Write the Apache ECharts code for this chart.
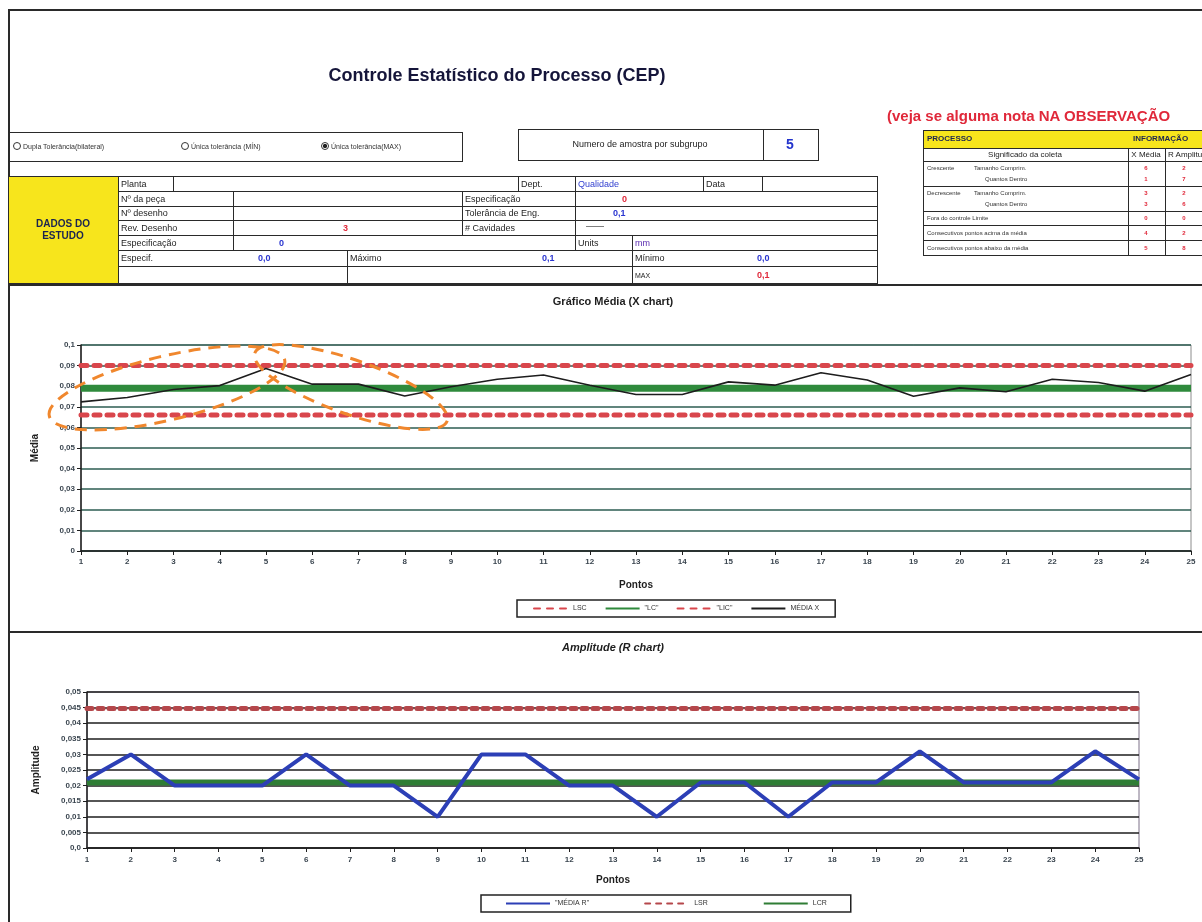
<!DOCTYPE html>
<html>
<head>
<meta charset="utf-8">
<title>Controle Estatístico do Processo (CEP)</title>
<script src="https://cdn.jsdelivr.net/npm/echarts@6/dist/echarts.min.js"></script>
<style>
  html, body { margin: 0; padding: 0; background: #fff; }
  #page { position: relative; width: 1202px; height: 922px; overflow: hidden;
          font-family: Arial, "Liberation Sans", sans-serif; background: #fff; }
  #chart { position: absolute; left: 0; top: 0; width: 1202px; height: 922px; }
  #form { position: absolute; left: 0; top: 0; width: 1202px; height: 922px; pointer-events: none; }
  .b { position: absolute; box-sizing: border-box; border: 1px solid #2a2a2a; }
  .t { position: absolute; white-space: nowrap; line-height: 1; transform: translateY(-50%); color: #222; }
  .ln { position: absolute; background: #2a2a2a; }
</style>
</head>
<body>
<div id="page">
  <div id="chart"></div>
  <div id="form"></div>
</div>
<script>
// ---- data: subgroup points, X-bar chart and R chart ----
const points = ['1','2','3','4','5','6','7','8','9','10','11','12','13','14','15','16','17','18','19','20','21','22','23','24','25'];

// mean of each subgroup (X chart)
const mediaX = [0.0724, 0.0745, 0.0784, 0.0803, 0.0886, 0.0810, 0.0810, 0.0752, 0.0797, 0.0834,
                0.0854, 0.0805, 0.0760, 0.0760, 0.0821, 0.0805, 0.0865, 0.0830, 0.0751, 0.0792,
                0.0773, 0.0834, 0.0818, 0.0776, 0.0857];
// control limits of the X chart
const limitLSC = 0.0900;
const limitLC  = 0.0790;
const limitLIC = 0.0660;

// range of each subgroup (R chart)
const mediaR = [0.022, 0.030, 0.020, 0.020, 0.020, 0.030, 0.020, 0.020, 0.010, 0.030,
                0.030, 0.020, 0.020, 0.010, 0.021, 0.021, 0.010, 0.021, 0.021, 0.031,
                0.021, 0.021, 0.021, 0.031, 0.022];
// control limits of the R chart
const limitLSR = 0.0447;
const limitLCR = 0.0210;

// legend names
const namesX = ['LSC', '"LC"', '"LIC"', 'MÉDIA X'];
const namesR = ['"MÉDIA R"', 'LSR', 'LCR'];

// ---- study form (header tables) ----
const form = document.getElementById('form');
function box(x1, y1, x2, y2, css) {
  const d = document.createElement('div');
  d.className = 'b';
  d.style.cssText = `left:${x1}px;top:${y1}px;width:${x2 - x1 + 1}px;height:${y2 - y1 + 1}px;` + (css || '');
  form.appendChild(d);
  return d;
}
function txt(x, y, s, css) {
  const d = document.createElement('div');
  d.className = 't';
  d.textContent = s;
  d.style.cssText = `left:${x}px;top:${y}px;` + (css || '');
  form.appendChild(d);
  return d;
}
function hline(x1, x2, y, w) {
  const d = document.createElement('div');
  d.className = 'ln';
  d.style.cssText = `left:${x1}px;top:${y}px;width:${x2 - x1}px;height:${w}px;`;
  form.appendChild(d);
}
function vline(x, y1, y2, w) {
  const d = document.createElement('div');
  d.className = 'ln';
  d.style.cssText = `left:${x}px;top:${y1}px;width:${w}px;height:${y2 - y1}px;`;
  form.appendChild(d);
}

// page frame and section separators
hline(8, 1202, 9, 2);
vline(8, 9, 922, 2);
hline(8, 1202, 284, 2);
hline(8, 1202, 631, 2);

// main title
txt(497, 75, 'Controle Estatístico do Processo (CEP)',
    'transform:translate(-50%,-50%);font-weight:bold;font-size:18px;color:#15153a;');
txt(887, 115, '(veja se alguma nota NA OBSERVAÇÃO',
    'font-weight:bold;font-size:15px;color:#e0283a;');

// tolerance type selector
box(8, 132, 462, 161);
function radio(x, y, filled) {
  const d = document.createElement('div');
  d.style.cssText = `position:absolute;left:${x}px;top:${y - 4}px;width:8px;height:8px;box-sizing:border-box;` +
    `border:1px solid #333;border-radius:50%;background:${filled ? 'radial-gradient(circle,#222 45%,#fff 55%)' : '#fff'};`;
  form.appendChild(d);
}
radio(13, 146, false); txt(23, 146, 'Dupla Tolerância(bilateral)', 'font-size:7px;color:#333;');
radio(181, 146, false); txt(191, 146, 'Única tolerância (MÍN)', 'font-size:7px;color:#333;');
radio(321, 146, true); txt(331, 146, 'Única tolerância(MAX)', 'font-size:7px;color:#333;');

box(518, 129, 763, 160);
txt(640, 144, 'Numero de amostra por subgrupo', 'transform:translate(-50%,-50%);font-size:9px;color:#222;');
box(763, 129, 818, 160);
txt(790, 144, '5', 'transform:translate(-50%,-50%);font-size:14px;font-weight:bold;color:#2233cc;');

// study data table
const R = [176, 191, 206, 220, 235, 250, 266, 283];
const mid = i => (R[i] + R[i + 1]) / 2;
box(8, R[0], 118, R[7], 'background:#f7e51c;');
txt(63, (R[0] + R[7]) / 2, 'DADOS DO\nESTUDO',
    'transform:translate(-50%,-50%);white-space:pre;text-align:center;font-weight:bold;font-size:10px;line-height:1.2;color:#1b2450;');
const lab = 'font-size:9px;color:#1e1e1e;';
const blue = 'font-size:9px;font-weight:bold;color:#2a35d0;';
const red = 'font-size:9px;font-weight:bold;color:#e0283a;';

box(118, R[0], 173, R[1]); txt(121, mid(0), 'Planta', lab);
box(173, R[0], 518, R[1]);
box(518, R[0], 575, R[1]); txt(521, mid(0), 'Dept.', lab);
box(575, R[0], 703, R[1]); txt(578, mid(0), 'Qualidade', 'font-size:9px;color:#3340d0;');
box(703, R[0], 762, R[1]); txt(706, mid(0), 'Data', lab);
box(762, R[0], 877, R[1]);

box(118, R[1], 233, R[2]); txt(121, mid(1), 'Nº da peça', lab);
box(233, R[1], 462, R[2]);
box(462, R[1], 575, R[2]); txt(465, mid(1), 'Especificação', lab);
box(575, R[1], 877, R[2]); txt(622, mid(1), '0', red);

box(118, R[2], 233, R[3]); txt(121, mid(2), 'Nº desenho', lab);
box(233, R[2], 462, R[3]);
box(462, R[2], 575, R[3]); txt(465, mid(2), 'Tolerância de Eng.', lab);
box(575, R[2], 877, R[3]); txt(613, mid(2), '0,1', blue);

box(118, R[3], 233, R[4]); txt(121, mid(3), 'Rev. Desenho', lab);
box(233, R[3], 462, R[4]); txt(343, mid(3), '3', red);
box(462, R[3], 575, R[4]); txt(465, mid(3), '# Cavidades', lab);
box(575, R[3], 877, R[4]); txt(586, mid(3) - 2, '——', 'font-size:9px;color:#333;');

box(118, R[4], 233, R[5]); txt(121, mid(4), 'Especificação', lab);
box(233, R[4], 575, R[5]); txt(279, mid(4), '0', blue);
box(575, R[4], 632, R[5]); txt(578, mid(4), 'Units', lab);
box(632, R[4], 877, R[5]); txt(635, mid(4), 'mm', 'font-size:9px;color:#5a2bb0;');

box(118, R[5], 347, R[6]); txt(121, mid(5), 'Especif.', lab); txt(258, mid(5), '0,0', blue);
box(347, R[5], 632, R[6]); txt(350, mid(5), 'Máximo', lab); txt(542, mid(5), '0,1', blue);
box(632, R[5], 877, R[6]); txt(635, mid(5), 'Mínimo', lab); txt(757, mid(5), '0,0', blue);

box(118, R[6], 347, R[7]);
box(347, R[6], 632, R[7]);
box(632, R[6], 877, R[7]); txt(635, mid(6), 'MAX', 'font-size:7px;color:#222;'); txt(757, mid(6), '0,1', red);

// process information table
const P = [130, 148, 161, 186, 211, 225, 240, 255];
const cX = 1128, cR = 1165;
box(923, P[0], 1210, P[1], 'background:#f7e51c;');
txt(927, (P[0] + P[1]) / 2, 'PROCESSO', 'font-size:8px;font-weight:bold;color:#1b2450;');
txt(1133, (P[0] + P[1]) / 2, 'INFORMAÇÃO', 'font-size:8px;font-weight:bold;color:#1b2450;');
box(923, P[1], cX, P[2]); txt(1025, (P[1] + P[2]) / 2, 'Significado da coleta', 'transform:translate(-50%,-50%);font-size:8px;color:#222;');
box(cX, P[1], cR, P[2]); txt(1146, (P[1] + P[2]) / 2, 'X Média', 'transform:translate(-50%,-50%);font-size:8px;color:#222;');
box(cR, P[1], 1210, P[2]); txt(1168, (P[1] + P[2]) / 2, 'R Amplitude', 'font-size:8px;color:#222;');
const small = 'font-size:6px;color:#333;';
const valRed = 'transform:translate(-50%,-50%);font-size:6px;font-weight:bold;color:#e0283a;';
const infoRows = [
  // [row index, label lines, x-bar values, range values]
  [2, ['Crescente', 'Tamanho Comprim.', 'Quantos Dentro'], ['6', '1'], ['2', '7']],
  [3, ['Decrescente', 'Tamanho Comprim.', 'Quantos Dentro'], ['3', '3'], ['2', '6']],
];
infoRows.forEach(([i, l, xv, rv]) => {
  box(923, P[i], cX, P[i + 1]); box(cX, P[i], cR, P[i + 1]); box(cR, P[i], 1210, P[i + 1]);
  const a = P[i] + (P[i + 1] - P[i]) * 0.27, b = P[i] + (P[i + 1] - P[i]) * 0.73;
  txt(927, a, l[0], small); txt(974, a, l[1], small); txt(985, b, l[2], small);
  txt(1146, a, xv[0], valRed); txt(1146, b, xv[1], valRed);
  txt(1184, a, rv[0], valRed); txt(1184, b, rv[1], valRed);
});
[[4, 'Fora do controle Limite', '0', '0'],
 [5, 'Consecutivos pontos acima da média', '4', '2'],
 [6, 'Consecutivos pontos abaixo da média', '5', '8']].forEach(([i, l, xv, rv]) => {
  box(923, P[i], cX, P[i + 1]); box(cX, P[i], cR, P[i + 1]); box(cR, P[i], 1210, P[i + 1]);
  const m = (P[i] + P[i + 1]) / 2;
  txt(927, m, l, small);
  txt(1146, m, xv, valRed); txt(1184, m, rv, valRed);
});

// ---- charts ----
function comma(v, digits) {
  return String(parseFloat(v.toFixed(digits))).replace('.', ',');
}
const tickLabel = { fontSize: 8, fontWeight: 'bold', color: '#3b4650', fontFamily: 'Arial' };
const axisName = { fontSize: 10, fontWeight: 'bold', color: '#1e1e1e', fontFamily: 'Arial' };
const blackAxis = { show: true, lineStyle: { color: '#1e1e1e', width: 1.5 } };
const blackTick = { show: true, length: 4, lineStyle: { color: '#1e1e1e', width: 1 } };
const constant = v => points.map(() => v);
const dotted = color => ({ color: color, width: 5, type: [6, 7], cap: 'round' });

// line series with no point markers; the legend shows only the stroke
function lineSeries(name, axis, data, lineStyle, z) {
  return { name: name, type: 'line', xAxisIndex: axis, yAxisIndex: axis, data: data,
           symbol: 'none', showSymbol: false, lineStyle: lineStyle,
           itemStyle: { color: lineStyle.color }, z: z };
}

const chart = echarts.init(document.getElementById('chart'), null, { renderer: 'canvas' });
chart.setOption({
  animation: false,
  textStyle: { fontFamily: 'Arial, "Liberation Sans", sans-serif' },
  grid: [
    { left: 81, top: 345, width: 1110, height: 206, show: true, borderColor: '#8c8c8c', borderWidth: 1 },
    { left: 87, top: 692, width: 1052, height: 156, show: true, borderColor: '#7d7088', borderWidth: 1 }
  ],
  xAxis: [
    { type: 'category', gridIndex: 0, data: points, boundaryGap: false,
      axisLine: blackAxis, axisTick: blackTick, axisLabel: Object.assign({ margin: 7 }, tickLabel),
      splitLine: { show: false },
      name: 'Pontos', nameLocation: 'middle', nameGap: 29, nameTextStyle: axisName },
    { type: 'category', gridIndex: 1, data: points, boundaryGap: false,
      axisLine: blackAxis, axisTick: blackTick, axisLabel: Object.assign({ margin: 8 }, tickLabel),
      splitLine: { show: false },
      name: 'Pontos', nameLocation: 'middle', nameGap: 27, nameTextStyle: axisName }
  ],
  yAxis: [
    { type: 'value', gridIndex: 0, min: 0, max: 0.1, interval: 0.01,
      axisLine: blackAxis, axisTick: blackTick,
      axisLabel: Object.assign({ margin: 6, formatter: v => comma(v, 2) }, tickLabel),
      splitLine: { show: true, lineStyle: { color: '#2c5d52', width: 1.5 } },
      name: 'Média', nameLocation: 'middle', nameGap: 41, nameRotate: 90, nameTextStyle: axisName },
    { type: 'value', gridIndex: 1, min: 0, max: 0.05, interval: 0.005,
      axisLine: blackAxis, axisTick: blackTick,
      axisLabel: Object.assign({ margin: 6, formatter: v => (v === 0 ? '0,0' : comma(v, 3)) }, tickLabel),
      splitLine: { show: true, lineStyle: { color: '#1e1e1e', width: 1.5 } },
      name: 'Amplitude', nameLocation: 'middle', nameGap: 46, nameRotate: 90, nameTextStyle: axisName }
  ],
  legend: [
    { data: namesX, left: 517, top: 600, itemWidth: 34, itemHeight: 8, itemGap: 18,
      padding: [5, 16], borderColor: '#222', borderWidth: 1.5, backgroundColor: '#fff',
      itemStyle: { opacity: 0 }, textStyle: { fontSize: 7, color: '#333' } },
    { data: namesR, left: 481, top: 895, itemWidth: 44, itemHeight: 8, itemGap: 55,
      padding: [5, 24], borderColor: '#222', borderWidth: 1.5, backgroundColor: '#fff',
      itemStyle: { opacity: 0 }, textStyle: { fontSize: 7, color: '#333' } }
  ],
  series: [
    lineSeries(namesX[1], 0, constant(limitLC), { color: '#2f8a3c', width: 7 }, 2),
    lineSeries(namesX[0], 0, constant(limitLSC), dotted('#d9464c'), 3),
    lineSeries(namesX[2], 0, constant(limitLIC), dotted('#d9464c'), 3),
    lineSeries(namesX[3], 0, mediaX, { color: '#1d1d1d', width: 1.6 }, 4),

    lineSeries(namesR[2], 1, constant(limitLCR), { color: '#2f7d35', width: 6 }, 2),
    lineSeries(namesR[1], 1, constant(limitLSR), { color: '#b5474b', width: 5, type: [5, 6], cap: 'round' }, 3),
    lineSeries(namesR[0], 1, mediaR, { color: '#2c3fb6', width: 4 }, 4)
  ],
  graphic: [
    { type: 'text', x: 613, y: 302, z: 10,
      style: { text: 'Gráfico Média (X chart)', align: 'center', verticalAlign: 'middle',
               font: 'bold 11px Arial', fill: '#1e1e1e' } },
    { type: 'text', x: 613, y: 648, z: 10,
      style: { text: 'Amplitude (R chart)', align: 'center', verticalAlign: 'middle',
               font: 'bold italic 11px Arial', fill: '#1e1e1e' } },
    // hand-drawn highlight rings around points 1-5 and 5-9
    { type: 'ellipse', x: 167, y: 388, rotation: 0.235, z: 20,
      shape: { cx: 0, cy: 0, rx: 121, ry: 32 },
      style: { fill: 'none', stroke: '#f0872d', lineWidth: 3, lineDash: [12, 8] } },
    { type: 'ellipse', x: 351, y: 387, rotation: -0.339, z: 20,
      shape: { cx: 0, cy: 0, rx: 102, ry: 27 },
      style: { fill: 'none', stroke: '#f0872d', lineWidth: 3, lineDash: [12, 8] } }
  ]
});
</script>
</body>
</html>
